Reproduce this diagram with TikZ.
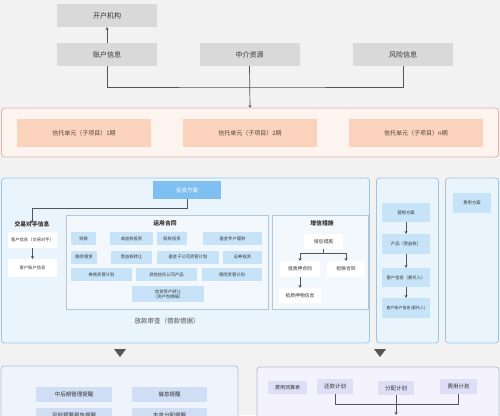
\documentclass[tikz,border=0pt]{standalone}
\usepackage{fontspec}
\setmainfont{Noto Sans CJK SC}
\usetikzlibrary{arrows.meta}
\definecolor{bg}{HTML}{F2F2F2}
\definecolor{graybox}{HTML}{D9D9D9}
\definecolor{txt}{HTML}{333333}
\definecolor{ln}{HTML}{555555}
\definecolor{peachbg}{HTML}{FDF3EF}
\definecolor{peachbd}{HTML}{E2B5A5}
\definecolor{peachbox}{HTML}{FBD3BC}
\definecolor{bluebg}{HTML}{EAF4FC}
\definecolor{bluebd}{HTML}{9CC6E8}
\definecolor{innerbg}{HTML}{F3F8FD}
\definecolor{innerbd}{HTML}{B5C6D6}
\definecolor{lblue}{HTML}{C6E3F8}
\definecolor{dblue}{HTML}{7FBFF2}
\definecolor{blbg}{HTML}{EEF3FC}
\definecolor{blbd}{HTML}{A9C3E2}
\definecolor{blbox}{HTML}{D0DEF5}
\definecolor{lvbg}{HTML}{F4F3FD}
\definecolor{lvbd}{HTML}{B9B8DC}
\definecolor{lvbox}{HTML}{DFDEF7}
\tikzset{
  x=1pt, y=-1pt,
  every node/.style={inner sep=0pt, outer sep=0pt, text=txt},
  gbox/.style={fill=graybox, font=\fontsize{7}{8}\selectfont},
  pbox/.style={fill=peachbox, minimum width=134pt, minimum height=28pt, font=\fontsize{6}{7}\selectfont, text=txt!80!brown},
  cont/.style={rounded corners=3pt, draw, line width=0.8pt},
  sbox/.style={fill=lblue, font=\fontsize{4.3}{5.2}\selectfont, minimum height=13pt},
  wbox/.style={fill=white, font=\fontsize{4.8}{5.5}\selectfont},
  ttl/.style={font=\bfseries\fontsize{5.8}{7}\selectfont},
  arr/.style={draw=ln, line width=0.7pt, -{Stealth[length=3pt,width=3pt]}},
  lin/.style={draw=ln, line width=0.7pt},
}
\begin{document}
\begin{tikzpicture}
\useasboundingbox (0,0) rectangle (500,415);
\clip (0,0) rectangle (500,415);
\fill[bg] (0,0) rectangle (500,415);
% top
\node[gbox, minimum width=100pt, minimum height=23pt] (kaihu) at (107,15.5) {开户机构};
\node[gbox, minimum width=100pt, minimum height=23pt] (zhanghu) at (107,54.5) {账户信息};
\node[gbox, minimum width=100pt, minimum height=23pt] (zhongjie) at (249.5,54.5) {中介资源};
\node[gbox, minimum width=100pt, minimum height=23pt] (fengxian) at (403,54.5) {风险信息};
\draw[arr] (zhanghu.north) -- (kaihu.south);
\coordinate (bus) at (249.5,87);
\draw[lin] (zhanghu.south) |- (bus) -| (fengxian.south);
% peach container
\node[cont, draw=peachbd, fill=peachbg, minimum width=497pt, minimum height=49pt] (peach) at (250,132.5) {};
\draw[arr] (zhongjie.south) -- (peach.north);
\node[pbox] (p1) at (84,133) {信托单元（子项目）1期};
\node[pbox] (p2) at (250,133) {信托单元（子项目）2期};
\node[pbox] (p3) at (416,133) {信托单元（子项目）n期};
% middle containers
\node[cont, draw=bluebd, fill=bluebg, minimum width=368pt, minimum height=165pt] (mid1) at (185.5,260.5) {};
\node[cont, draw=bluebd, fill=bluebg, minimum width=62pt, minimum height=165pt] (mid2) at (407.5,260.5) {};
\node[cont, draw=bluebd, fill=bluebg, minimum width=53pt, minimum height=165pt] (mid3) at (472,260.5) {};
\node[fill=dblue, text=white, minimum width=68pt, minimum height=18pt, font=\fontsize{5.5}{6.5}\selectfont] (touzi) at (187,190) {投资方案};
\node[ttl] (jytitle) at (32,224) {交易对手信息};
\draw[arr] (touzi.south) -- ++(0,9) -| ([yshift=-2pt]jytitle.north);
\node[wbox, minimum width=49pt, minimum height=16pt, font=\fontsize{4.3}{5}\selectfont] (kh1) at (32.5,240) {客户信息（交易对手）};
\node[wbox, minimum width=49pt, minimum height=18pt, font=\fontsize{4.3}{5}\selectfont] (kh2) at (32.5,268) {客户账户信息};
\draw[arr] (kh1.south) -- (kh2.north);
% yunyong
\node[draw=innerbd, fill=innerbg, line width=0.8pt, minimum width=202pt, minimum height=94pt] (yy) at (167,262) {};
\node[ttl] (yytitle) at (165,223) {运用合同};
\node[sbox, minimum width=25pt] (a1) at (83.5,238.5) {贷款};
\node[sbox, minimum width=43pt] (a2) at (131.5,238.5) {收益权投资};
\node[sbox, minimum width=30pt] (a3) at (172,238.5) {股权投资};
\node[sbox, minimum width=59pt] (a4) at (232.5,238.5) {基金专户理财};
\node[sbox, minimum width=26pt] (b1) at (84,257) {融资租赁};
\node[sbox, minimum width=41pt] (b2) at (131.5,257) {受益权转让};
\node[sbox, minimum width=62pt] (b3) at (188,257) {基金子公司资管计划};
\node[sbox, minimum width=39pt] (b4) at (242.5,257) {证券投资};
\node[sbox, minimum width=61pt] (c1) at (101.5,274.5) {券商资管计划};
\node[sbox, minimum width=61pt] (c2) at (166.5,274.5) {其他信托公司产品};
\node[sbox, minimum width=60pt] (c3) at (232,274.5) {保险资管计划};
\node[sbox, minimum width=72pt, minimum height=16pt, align=center] (d1) at (168,294) {信贷资产转让\\（资产包明细）};
% zengxin
\node[draw=innerbd, fill=innerbg, line width=0.8pt, minimum width=96pt, minimum height=94pt] (zxc) at (320,262) {};
\node[ttl] (zxtitle) at (322,223) {增信措施};
\node[wbox, minimum width=39pt, minimum height=15pt] (zx) at (323.5,241.5) {增信措施};
\node[wbox, minimum width=40pt, minimum height=16pt] (dz) at (300,269) {抵质押合同};
\node[wbox, minimum width=38pt, minimum height=16pt] (db) at (346,269) {担保合同};
\node[wbox, minimum width=42pt, minimum height=15pt] (dzw) at (300,295.5) {抵质押物信息};
\draw[lin] (zx.south) -- ++(0,4) coordinate (tee);
\draw[arr] (tee) -| (dz.north);
\draw[arr] (tee) -| (db.north);
\draw[arr] (dz.south) -- (dzw.north);
\node[font=\fontsize{6.5}{7.5}\selectfont, text=txt!85] (fk) at (167,321) {放款审查（借款借据）};
% right column
\node[sbox, minimum width=48pt, minimum height=19pt] (yx) at (406,212.5) {营销方案};
\node[sbox, minimum width=48pt, minimum height=20pt] (cp) at (406,244) {产品（受益权）};
\node[sbox, minimum width=48pt, minimum height=19pt] (khxx) at (406,277.5) {客户信息（委托人）};
\node[sbox, minimum width=48pt, minimum height=20pt, font=\fontsize{4}{5}\selectfont] (khzh) at (406,308) {客户账户信息(委托人)};
\draw[arr] (yx.south) -- (cp.north);
\draw[arr] (cp.south) -- (khxx.north);
\draw[arr] (khxx.south) -- (khzh.north);
\node[sbox, minimum width=38pt, minimum height=20pt] (fy) at (472,203) {费用方案};
% triangles
\fill[ln] (114,349) -- (126,349) -- (120,357) -- cycle;
\fill[ln] (374,349) -- (386,349) -- (380,357) -- cycle;
% bottom left
\node[cont, draw=blbd, fill=blbg, minimum width=237pt, minimum height=70pt] (bl) at (119.5,401) {};
\node[fill=blbox, minimum width=76pt, minimum height=15pt, font=\fontsize{5.5}{6.5}\selectfont] (m1) at (74,394.5) {中后期管理提醒};
\node[fill=blbox, minimum width=75pt, minimum height=15pt, font=\fontsize{5.5}{6.5}\selectfont] (m2) at (169.5,394.5) {催息提醒};
\node[fill=blbox, minimum width=76pt, minimum height=15pt, font=\fontsize{5.5}{6.5}\selectfont] (m3) at (74,415.5) {风险预警报告提醒};
\node[fill=blbox, minimum width=75pt, minimum height=15pt, font=\fontsize{5.5}{6.5}\selectfont] (m4) at (169.5,415.5) {本息分配提醒};
% bottom right
\node[cont, draw=lvbd, fill=lvbg, minimum width=242pt, minimum height=70pt] (br) at (378,402) {};
\node[fill=lvbox, minimum width=39pt, minimum height=13pt, font=\fontsize{5}{6}\selectfont] (fc) at (287.5,387.5) {费用测算表};
\node[fill=lvbox, minimum width=36pt, minimum height=15pt, font=\fontsize{5.5}{6.5}\selectfont] (hk) at (335,386.5) {还款计划};
\node[fill=lvbox, minimum width=36pt, minimum height=14pt, font=\fontsize{5.5}{6.5}\selectfont] (fp) at (396,388) {分配计划};
\node[fill=lvbox, minimum width=37pt, minimum height=15pt, font=\fontsize{5.5}{6.5}\selectfont] (fyjh) at (458.5,386.5) {费用计划};
\draw[lin] (hk.south) -- ++(0,10) -| (fyjh.south);
\coordinate (fpend) at (396,415);
\draw[arr] (fp.south) -- (fpend);
\end{tikzpicture}
\end{document}
